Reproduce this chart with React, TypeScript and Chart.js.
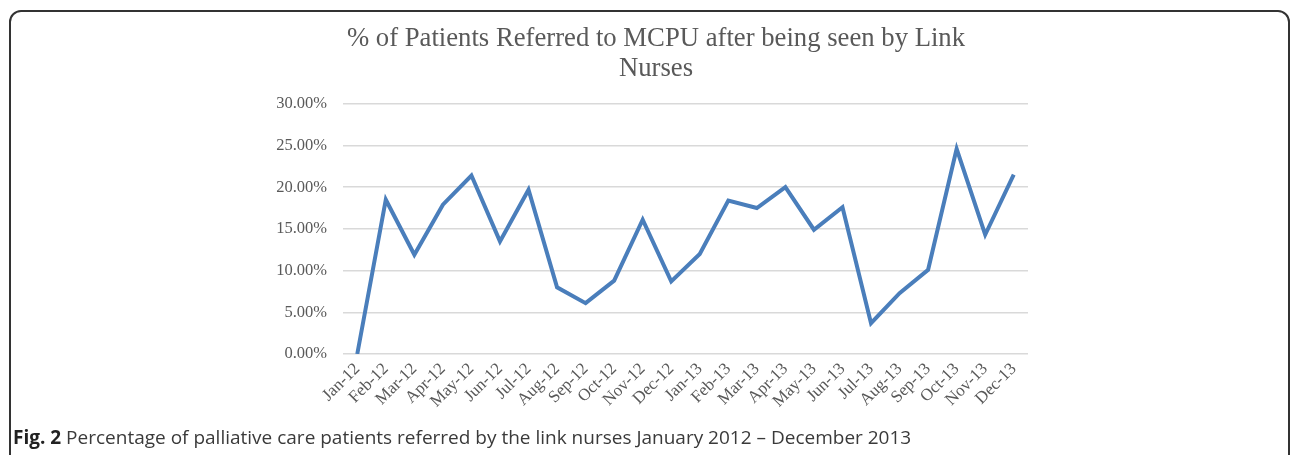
import React, { useEffect, useRef } from "react";
import { Chart, registerables } from "chart.js";

Chart.register(...registerables);

const months = [
  "Jan-12", "Feb-12", "Mar-12", "Apr-12", "May-12", "Jun-12", "Jul-12", "Aug-12",
  "Sep-12", "Oct-12", "Nov-12", "Dec-12", "Jan-13", "Feb-13", "Mar-13", "Apr-13",
  "May-13", "Jun-13", "Jul-13", "Aug-13", "Sep-13", "Oct-13", "Nov-13", "Dec-13",
];

const referredPct = [
  0.0, 18.5, 11.9, 17.9, 21.4, 13.5, 19.7, 8.0,
  6.1, 8.8, 16.1, 8.7, 12.0, 18.4, 17.5, 20.0,
  14.9, 17.6, 3.7, 7.3, 10.1, 24.6, 14.3, 21.5,
];

const titleLines = ["% of Patients Referred to MCPU after being seen by Link", "Nurses"];
const yMin = 0;
const yMax = 30;
const yStep = 5;

export default function App() {
  const canvasRef = useRef<HTMLCanvasElement | null>(null);

  useEffect(() => {
    document.body.style.margin = "0";
    document.body.style.overflow = "hidden";
    const canvas = canvasRef.current;
    if (!canvas) return;
    const serif = "'Liberation Serif', 'Times New Roman', serif";
    const widenLabelArea = {
      id: "widenLabelArea",
      afterLayout(c: any) {
        const ys = c.scales.y;
        if (ys) ys.left = 0;
      },
    };
    const chart = new Chart(canvas, {
      type: "line",
      data: {
        labels: months,
        datasets: [
          {
            data: referredPct,
            borderColor: "#4a7ebb",
            backgroundColor: "#4a7ebb",
            borderWidth: 4,
            pointRadius: 0,
            tension: 0,
            borderJoinStyle: "miter",
          },
        ],
      },
      plugins: [widenLabelArea],
      options: {
        responsive: false,
        animation: false,
        layout: { padding: { left: 284, right: 264, top: 0, bottom: 11 } },
        plugins: {
          legend: { display: false },
          tooltip: { enabled: false },
          title: {
            display: true,
            text: titleLines,
            color: "#595959",
            font: { family: serif, size: 26.7, weight: "normal", lineHeight: 1.12 },
            padding: { top: 24, bottom: 20 },
          },
        },
        scales: {
          x: {
            offset: true,
            grid: { display: false, drawTicks: false },
            border: { display: false },
            afterFit: (scale: any) => {
              scale.height = 60;
            },
            ticks: {
              autoSkip: false,
              minRotation: 45,
              maxRotation: 45,
              padding: 5,
              color: "#595959",
              font: { family: serif, size: 17 },
            },
          },
          y: {
            min: yMin,
            max: yMax,
            grid: { color: "#d9d9d9", lineWidth: 1.5, drawTicks: false },
            border: { display: false },
            afterFit: (scale: any) => {
              scale.width = 59;
            },
            ticks: {
              stepSize: yStep,
              padding: 16,
              color: "#595959",
              font: { family: serif, size: 16.5 },
              callback: (v: any) => Number(v).toFixed(2) + "%",
            },
          },
        },
      },
    });
    return () => chart.destroy();
  }, []);

  return (
    <div
      style={{
        position: "fixed",
        left: 0,
        top: 0,
        width: 1292,
        height: 455,
        overflow: "hidden",
        background: "#fff",
      }}
    >
      <div
        style={{
          position: "absolute",
          left: 9,
          top: 10,
          width: 1281,
          height: 480,
          border: "2px solid #333",
          borderRadius: 12,
          boxSizing: "border-box",
        }}
      />
      <canvas
        ref={canvasRef}
        width={1292}
        height={425}
        style={{ position: "absolute", left: 0, top: 0, width: 1292, height: 425 }}
      />
      <div
        style={{
          position: "absolute",
          left: 13,
          top: 426,
          lineHeight: "22px",
          fontFamily: "'Open Sans', sans-serif",
          fontSize: 19,
          color: "#3a3a3a",
          whiteSpace: "nowrap",
        }}
      >
        <b style={{ color: "#222" }}>Fig. 2</b> Percentage of palliative care patients referred by the link nurses January 2012 – December 2013
      </div>
    </div>
  );
}
